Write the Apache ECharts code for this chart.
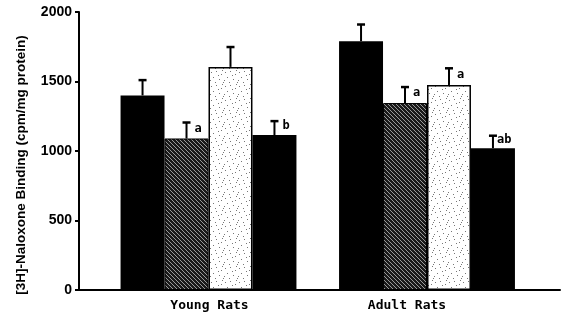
<!DOCTYPE html>
<html>
<head>
<meta charset="utf-8">
<script src="https://cdn.jsdelivr.net/npm/echarts@6/dist/echarts.min.js"></script>
<style>html,body{margin:0;padding:0;background:#fff;}#c{width:566px;height:323px;}</style>
</head>
<body>
<div id="c"></div>
<script>
// ---- data ----
var categories = ['Young Rats', 'Adult Rats'];
var yTicks = [0, 500, 1000, 1500, 2000];
var group1 = [1400, 1790];
var group2 = [1090, 1345];
var group3 = [1605, 1475];
var group4 = [1115, 1020];
var err1 = [110, 120];
var err2 = [115, 115];
var err3 = [143, 120];
var err4 = [100, 90];
var note1 = ['', ''];
var note2 = ['a', 'a'];
var note3 = ['', 'a'];
var note4 = ['b', 'ab'];
var yLabel = '[3H]-Naloxone Binding (cpm/mg protein)';

// ---- patterns ----
function hatch() {
  var c = document.createElement('canvas'); c.width = 4; c.height = 4;
  var g = c.getContext('2d');
  g.fillStyle = '#1a1a1a'; g.fillRect(0, 0, 4, 4);
  g.fillStyle = '#9a9a9a';
  for (var i = 0; i < 4; i++) { g.fillRect(i, i, 1, 1); }
  return c;
}
function stipple() {
  var c = document.createElement('canvas'); c.width = 14; c.height = 14;
  var g = c.getContext('2d');
  g.fillStyle = '#fff'; g.fillRect(0, 0, 14, 14);
  g.fillStyle = '#777';
  var pts = [[1,2],[6,1],[11,4],[3,7],[9,9],[13,12],[5,12],[0,10],[8,5],[12,0]];
  pts.forEach(function (p) { g.fillRect(p[0], p[1], 1, 1); });
  return c;
}

var values = [group1, group2, group3, group4];
var errs = [err1, err2, err3, err4];
var notes = [note1, note2, note3, note4];
var styles = [
  { color: '#000' },
  { color: { image: hatch(), repeat: 'repeat' }, borderColor: '#000', borderWidth: 1 },
  { color: { image: stipple(), repeat: 'repeat' }, borderColor: '#000', borderWidth: 1.5 },
  { color: '#000' }
];
var GAP = 0.195;

var errData = [];
for (var s = 0; s < 4; s++) {
  for (var k = 0; k < categories.length; k++) {
    errData.push([k, s, values[s][k], errs[s][k], notes[s][k]]);
  }
}

var series = [];
for (var s = 0; s < 4; s++) {
  series.push({
    type: 'bar', xAxisIndex: 1, yAxisIndex: 1,
    data: values[s], barGap: '0%', barCategoryGap: (GAP * 100) + '%',
    itemStyle: styles[s], silent: true, animation: false
  });
}
series.push({
  type: 'custom', xAxisIndex: 1, yAxisIndex: 1, animation: false, silent: true,
  data: errData, z: 5,
  renderItem: function (params, api) {
    var cat = api.value(0), si = api.value(1), v = api.value(2), e = api.value(3);
    var note = errData[params.dataIndex][4];
    var band = api.size([1, 0])[0];
    var bw = band * (1 - GAP) / 4;
    var base = api.coord([cat, v]);
    var top = api.coord([cat, v + e]);
    var x = base[0] + (si - 1.5) * bw;
    var kids = [
      { type: 'line', shape: { x1: x, y1: base[1], x2: x, y2: top[1] }, style: { stroke: '#000', lineWidth: 2 } },
      { type: 'line', shape: { x1: x - 4, y1: top[1], x2: x + 4, y2: top[1] }, style: { stroke: '#000', lineWidth: 2.5 } }
    ];
    if (note) {
      kids.push({ type: 'text', style: { text: note, x: x + (note.length > 1 ? 4 : 8), y: (base[1] + top[1]) / 2 - 2,
        textVerticalAlign: 'middle', font: 'bold 12px "DejaVu Sans Mono"', fill: '#000' } });
    }
    return { type: 'group', children: kids };
  }
});

var chart = echarts.init(document.getElementById('c'), null, { renderer: 'canvas' });
chart.setOption({
  backgroundColor: '#fff',
  animation: false,
  grid: [
    { left: 79, right: 6, top: 12, bottom: 33 },
    { left: 99.25, right: 29.75, top: 12, bottom: 33 }
  ],
  xAxis: [
    { gridIndex: 0, type: 'value', min: 0, max: 1, show: true,
      axisLine: { show: true, onZero: false, lineStyle: { color: '#000', width: 2 } },
      axisTick: { show: false }, axisLabel: { show: false }, splitLine: { show: false } },
    { gridIndex: 1, type: 'category', data: categories,
      axisLine: { show: false }, axisTick: { show: false },
      axisLabel: { margin: 9, color: '#000',
        formatter: function (v, i) { return i === 1 ? '{r|' + v + '}' : '{l|' + v + '}'; },
        rich: {
          l: { fontFamily: 'DejaVu Sans Mono', fontWeight: 'bold', fontSize: 13, color: '#000', padding: [0, 0, 0, 2] },
          r: { fontFamily: 'DejaVu Sans Mono', fontWeight: 'bold', fontSize: 13, color: '#000', padding: [0, 40, 0, 0] }
        } } }
  ],
  yAxis: [
    { gridIndex: 0, type: 'value', min: yTicks[0], max: yTicks[yTicks.length - 1], interval: 500,
      axisLine: { show: true, lineStyle: { color: '#000', width: 2 } },
      axisTick: { show: true, length: 4, lineStyle: { color: '#000', width: 2 } },
      splitLine: { show: false },
      axisLabel: { margin: 7, color: '#000', fontFamily: 'Liberation Sans', fontWeight: 'bold', fontSize: 14,
        formatter: function (v) { return String(v); } } },
    { gridIndex: 1, type: 'value', min: yTicks[0], max: yTicks[yTicks.length - 1], show: false, splitLine: { show: false } }
  ],
  graphic: [
    { type: 'text', x: 21, y: 165, rotation: Math.PI / 2,
      style: { text: yLabel, textAlign: 'center', textVerticalAlign: 'middle',
        font: 'bold 13.5px "Liberation Sans"', fill: '#000' } }
  ],
  series: series
});
</script>
</body>
</html>
